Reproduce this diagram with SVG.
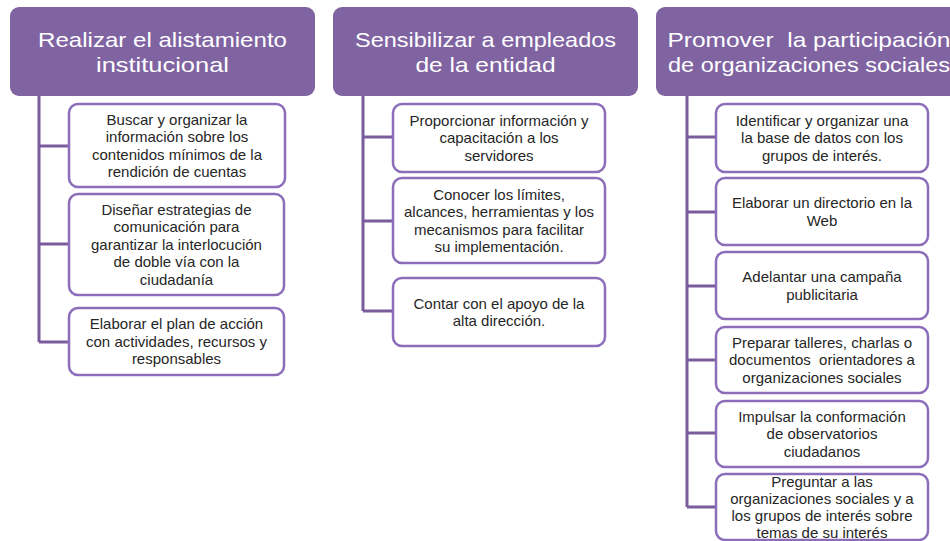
<svg xmlns="http://www.w3.org/2000/svg" width="950" height="541" viewBox="0 0 950 541">
<style>
.hdr{fill:#8064A2;}
.ht{fill:#ffffff;font-family:"Liberation Sans",Arial,sans-serif;font-size:21px;text-anchor:middle;}
.box{fill:#ffffff;stroke:#8B6DB9;stroke-width:2.5;}
.bt{fill:#262626;font-family:"Liberation Sans",Arial,sans-serif;font-size:15px;text-anchor:middle;}
.con{fill:none;stroke:#7A5C9E;stroke-width:3;}
</style>
<rect width="950" height="541" fill="#ffffff"/>
<g id="connectors">
<path class="con" d="M39 95 V342 M39 146 H69 M39 244 H69 M39 342 H69"/>
<path class="con" d="M363 95 V311 M363 137 H393 M363 221 H393 M363 311 H393"/>
<path class="con" d="M687 95 V507 M687 137 H716 M687 212 H716 M687 286 H716 M687 360 H716 M687 433 H716 M687 507 H716"/>
</g>
<g id="h1">
<rect class="hdr" x="10" y="7" width="305" height="89" rx="9"/>
<text class="ht" x="162.5" y="47" textLength="249" lengthAdjust="spacingAndGlyphs">Realizar el alistamiento</text>
<text class="ht" x="162.5" y="72" textLength="133" lengthAdjust="spacingAndGlyphs">institucional</text>
</g>
<g id="h2">
<rect class="hdr" x="333" y="7" width="305" height="89" rx="9"/>
<text class="ht" x="485.5" y="47" textLength="261" lengthAdjust="spacingAndGlyphs">Sensibilizar a empleados</text>
<text class="ht" x="485.5" y="72" textLength="140" lengthAdjust="spacingAndGlyphs">de la entidad</text>
</g>
<g id="h3">
<rect class="hdr" x="656" y="7" width="310" height="89" rx="9"/>
<text class="ht" x="809" y="47" textLength="283" lengthAdjust="spacingAndGlyphs" style="white-space:pre">Promover  la participación</text>
<text class="ht" x="809" y="72" textLength="282" lengthAdjust="spacingAndGlyphs">de organizaciones sociales</text>
</g>
<g id="c1b1">
<rect class="box" x="69" y="104" width="216" height="83" rx="9"/>
<text class="bt" x="177" y="124.5">Buscar y organizar la</text>
<text class="bt" x="177" y="142">información sobre los</text>
<text class="bt" x="177" y="159.5">contenidos mínimos de la</text>
<text class="bt" x="177" y="177">rendición de cuentas</text>
</g>
<g id="c1b2">
<rect class="box" x="69" y="194" width="215" height="101" rx="9"/>
<text class="bt" x="176.5" y="214.5">Diseñar estrategias de</text>
<text class="bt" x="176.5" y="232">comunicación para</text>
<text class="bt" x="176.5" y="249.5">garantizar la interlocución</text>
<text class="bt" x="176.5" y="267">de doble vía con la</text>
<text class="bt" x="176.5" y="284.5">ciudadanía</text>
</g>
<g id="c1b3">
<rect class="box" x="69" y="308" width="215" height="67" rx="9"/>
<text class="bt" x="176.5" y="329">Elaborar el plan de acción</text>
<text class="bt" x="176.5" y="346.5">con actividades, recursos y</text>
<text class="bt" x="176.5" y="364">responsables</text>
</g>
<g id="c2b1">
<rect class="box" x="393" y="104" width="212" height="68" rx="9"/>
<text class="bt" x="499" y="125.5">Proporcionar información y</text>
<text class="bt" x="499" y="143">capacitación a los</text>
<text class="bt" x="499" y="160.5">servidores</text>
</g>
<g id="c2b2">
<rect class="box" x="393" y="178" width="212" height="85" rx="9"/>
<text class="bt" x="499" y="199.5">Conocer los límites,</text>
<text class="bt" x="499" y="217">alcances, herramientas y los</text>
<text class="bt" x="499" y="234.5">mecanismos para facilitar</text>
<text class="bt" x="499" y="252">su implementación.</text>
</g>
<g id="c2b3">
<rect class="box" x="393" y="278" width="212" height="68" rx="9"/>
<text class="bt" x="499" y="308.5">Contar con el apoyo de la</text>
<text class="bt" x="499" y="326">alta dirección.</text>
</g>
<g id="c3b1">
<rect class="box" x="716" y="104" width="212" height="68" rx="9"/>
<text class="bt" x="822" y="125.5">Identificar y organizar una</text>
<text class="bt" x="822" y="143">la base de datos con los</text>
<text class="bt" x="822" y="160.5">grupos de interés.</text>
</g>
<g id="c3b2">
<rect class="box" x="716" y="178" width="212" height="67" rx="9"/>
<text class="bt" x="822" y="208">Elaborar un directorio en la</text>
<text class="bt" x="822" y="225.5">Web</text>
</g>
<g id="c3b3">
<rect class="box" x="716" y="252" width="212" height="67" rx="9"/>
<text class="bt" x="822" y="282">Adelantar una campaña</text>
<text class="bt" x="822" y="299.5">publicitaria</text>
</g>
<g id="c3b4">
<rect class="box" x="716" y="327" width="212" height="66" rx="9"/>
<text class="bt" x="822" y="347.5">Preparar talleres, charlas o</text>
<text class="bt" x="822" y="365" style="white-space:pre">documentos  orientadores a</text>
<text class="bt" x="822" y="382.5">organizaciones sociales</text>
</g>
<g id="c3b5">
<rect class="box" x="716" y="401" width="212" height="66" rx="9"/>
<text class="bt" x="822" y="421.5">Impulsar la conformación</text>
<text class="bt" x="822" y="439">de observatorios</text>
<text class="bt" x="822" y="456.5">ciudadanos</text>
</g>
<g id="c3b6">
<rect class="box" x="716" y="474" width="212" height="66" rx="9"/>
<text class="bt" x="822" y="487">Preguntar a las</text>
<text class="bt" x="822" y="504">organizaciones sociales y a</text>
<text class="bt" x="822" y="521">los grupos de interés sobre</text>
<text class="bt" x="822" y="538">temas de su interés</text>
</g>
</svg>
